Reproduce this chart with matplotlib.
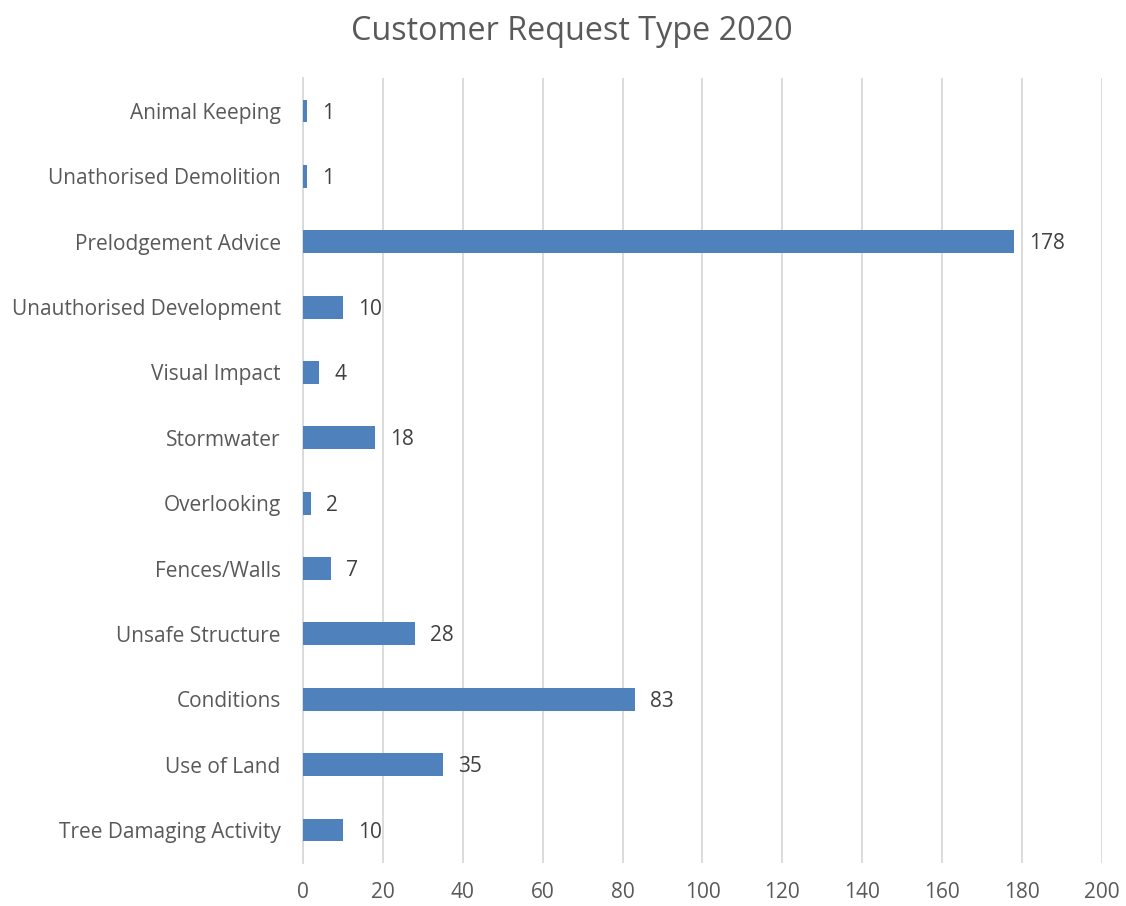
import matplotlib
matplotlib.use("Agg")
import matplotlib.pyplot as plt

categories = ["Animal Keeping", "Unathorised Demolition", "Prelodgement Advice",
              "Unauthorised Development", "Visual Impact", "Stormwater",
              "Overlooking", "Fences/Walls", "Unsafe Structure", "Conditions",
              "Use of Land", "Tree Damaging Activity"]
values = [1, 1, 178, 10, 4, 18, 2, 7, 28, 83, 35, 10]
xticks = [0, 20, 40, 60, 80, 100, 120, 140, 160, 180, 200]
title = "Customer Request Type 2020"

plt.rcParams['font.family'] = ['Open Sans', 'DejaVu Sans']

fig = plt.figure(figsize=(11.26, 9.06), dpi=100)
ax = fig.add_axes([0.269, 0.0478, 0.7097, 0.8658])

ypos = list(range(len(categories)))
ax.barh(ypos, values, height=0.35, color="#4F81BD", zorder=3)
ax.set_ylim(len(categories) - 0.5, -0.5)
ax.set_xlim(0, 200)
ax.set_xticks(xticks)
ax.set_yticks(ypos)
ax.set_yticklabels(categories)

for y, v in zip(ypos, values):
    ax.annotate(str(v), (v, y), xytext=(11, -1.5), textcoords="offset points",
                va="center", ha="left", fontsize=15, color="#404040")

ax.grid(axis="x", color="#D9D9D9", linewidth=1.3, zorder=0)
for s in ["top", "right", "bottom"]:
    ax.spines[s].set_visible(False)
ax.spines["left"].set_color("#D9D9D9")
ax.spines["left"].set_linewidth(1.3)
ax.tick_params(axis="both", length=0, labelsize=15, colors="#595959")
ax.tick_params(axis="y", pad=16)
ax.tick_params(axis="x", pad=14)

fig.text(0.508, 0.983, title, ha="center", va="top", fontsize=23.3, color="#595959")

fig.savefig("out.png", dpi=100)
